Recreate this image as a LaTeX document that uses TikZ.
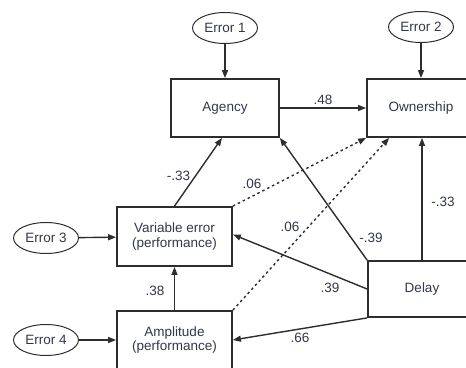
\documentclass[tikz,border=0pt]{standalone}
\usepackage{fontspec}
\setmainfont{Liberation Sans}
\usetikzlibrary{arrows.meta,shapes.geometric}
\definecolor{ink}{RGB}{45,45,45}
\definecolor{txt}{RGB}{50,55,75}
\begin{document}
\begin{tikzpicture}[x=1pt,y=-1pt,
  every node/.style={font=\fontsize{13.5}{14.5}\selectfont, text=txt},
  box/.style={draw=ink, line width=1.8pt, rectangle, align=center, inner sep=0pt},
  err/.style={draw=ink, line width=1pt, ellipse, minimum width=65pt, minimum height=31pt, inner sep=0pt},
  arr/.style={draw=ink, line width=1.4pt, -{Triangle[length=8pt,width=6pt]}},
  dotarr/.style={arr, dash pattern=on 2.5pt off 3pt},
  lab/.style={inner sep=0pt}]
\useasboundingbox (0,0) rectangle (466,367);
\clip (0,0) rectangle (466,367);
% error ellipses
\node[err] (e1) at (225,28) {Error 1};
\node[err] (e2) at (421,27) {Error 2};
\node[err] (e3) at (46,238) {Error 3};
\node[err] (e4) at (46,340) {Error 4};
% boxes
\node[box, minimum width=108pt, minimum height=58pt] (ag) at (225,108) {Agency};
\node[box, minimum width=108pt, minimum height=58pt] (own) at (421,108) {Ownership};
\node[box, minimum width=115pt, minimum height=59pt] (ve) at (174.5,236.5) {Variable error\\(performance)};
\node[box, minimum width=115pt, minimum height=58pt] (amp) at (174.5,340) {Amplitude\\(performance)};
\node[box, minimum width=108pt, minimum height=56pt] (del) at (422,289) {Delay};
% error arrows
\draw[arr] (e1) -- (ag);
\draw[arr] (e2) -- (own);
\draw[arr] (e3) -- (ve);
\draw[arr] (e4) -- (amp);
% paths
\draw[arr] (ag) -- (own) node[lab, midway, above=3pt] {.48};
\draw[arr] (ve.north) -- ([xshift=-3pt]ag.south) node[lab, pos=0.45, left=5pt] {-.33};
\draw[dotarr] (ve.north east) -- (own.south west);
\draw[dotarr] (amp.north east) -- ([xshift=23pt]own.south west);
\draw[arr] (amp.north) -- (ve.south);
\draw[arr] (del.north west) -- (ag.south east);
\draw[arr] (del.north) -- (del.north |- own.south);
\draw[arr] (del.west) -- ([yshift=2pt]ve.east);
\draw[arr] (del.south west) -- (amp.east);
% labels
\node[lab] (l1) at (252,184) {.06};
\node[lab] (l2) at (290,227) {.06};
\node[lab] (l3) at (371,238) {-.39};
\node[lab] (l4) at (443,202) {-.33};
\node[lab] (l5) at (330,288) {.39};
\node[lab] (l6) at (300,338) {.66};
\node[lab] (l7) at (155,291) {.38};
\end{tikzpicture}
\end{document}
